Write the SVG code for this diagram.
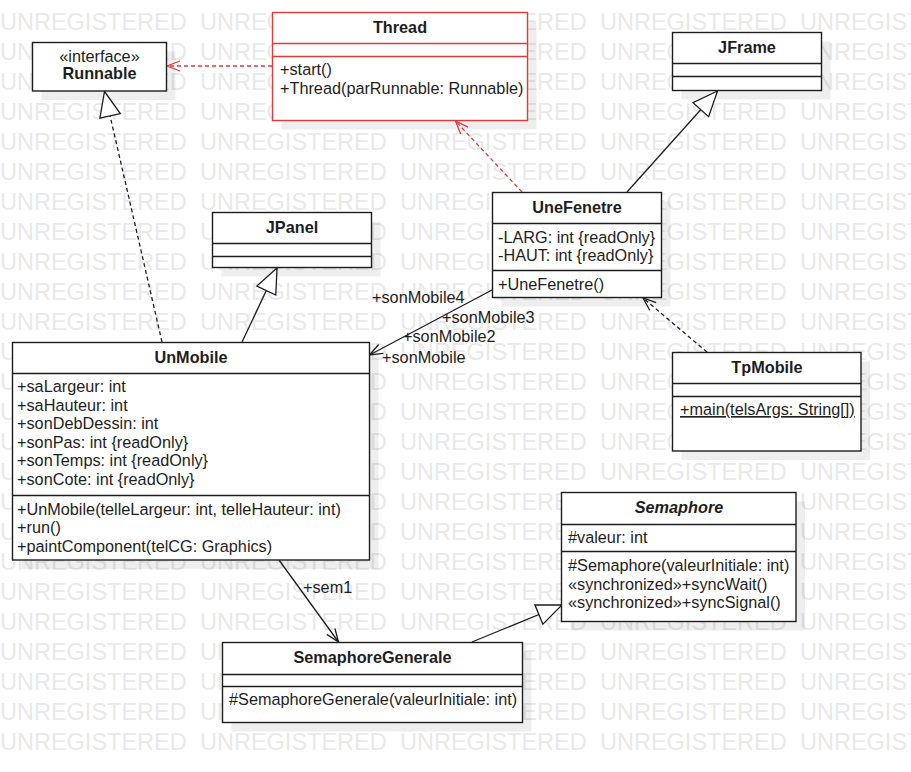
<svg xmlns="http://www.w3.org/2000/svg" xmlns:xlink="http://www.w3.org/1999/xlink" width="911" height="772" viewBox="0 0 911 772">
<style>
text{font-family:"Liberation Sans",Arial,sans-serif;font-size:16.25px;fill:#1e1e1e}
.wm{font-size:23.5px;fill:#e9e9e9}
.b{font-weight:bold}
.c{text-anchor:middle}
.box{fill:#fff;stroke:#1e1e1e;stroke-width:1.4}
.red{stroke:#e23a3a}
.sep{stroke:#1e1e1e;stroke-width:1.4;fill:none}
.sepr{stroke:#e23a3a;stroke-width:1.4;fill:none}
.sh{fill:#000;fill-opacity:0.065}
.ln{fill:none;stroke:#1e1e1e;stroke-width:1.3}
.dash{stroke-dasharray:4 3}
.rl{fill:none;stroke:#e23a3a;stroke-width:1.3;stroke-dasharray:4 3}
</style>
<defs>
<text id="wmrow" class="wm"><tspan x="0">UNREGISTERED</tspan><tspan x="200">UNREGISTERED</tspan><tspan x="400">UNREGISTERED</tspan><tspan x="600">UNREGISTERED</tspan><tspan x="800">UNREGISTERED</tspan></text>
<marker id="openB" viewBox="-15 -7 16 14" refX="0" refY="0" markerWidth="16" markerHeight="14" markerUnits="userSpaceOnUse" orient="auto">
<path d="M-13,-5 L0,0 L-13,5" fill="none" stroke="#1e1e1e" stroke-width="1.3"/>
</marker>
<marker id="openR" viewBox="-15 -7 16 14" refX="0" refY="0" markerWidth="16" markerHeight="14" markerUnits="userSpaceOnUse" orient="auto">
<path d="M-13,-5 L0,0 L-13,5" fill="none" stroke="#e23a3a" stroke-width="1.3"/>
</marker>
<marker id="tri" viewBox="-27 -12 28 24" refX="0" refY="0" markerWidth="28" markerHeight="24" markerUnits="userSpaceOnUse" orient="auto">
<path d="M0,0 L-25,-10.5 L-25,10.5 Z" fill="#fff" stroke="#1e1e1e" stroke-width="1.3"/>
</marker>
</defs>
<rect width="911" height="772" fill="#fff"/>
<g id="watermark">
<use xlink:href="#wmrow" y="30"/><use xlink:href="#wmrow" y="60"/><use xlink:href="#wmrow" y="90"/><use xlink:href="#wmrow" y="120"/><use xlink:href="#wmrow" y="150"/>
<use xlink:href="#wmrow" y="180"/><use xlink:href="#wmrow" y="210"/><use xlink:href="#wmrow" y="240"/><use xlink:href="#wmrow" y="270"/><use xlink:href="#wmrow" y="300"/>
<use xlink:href="#wmrow" y="330"/><use xlink:href="#wmrow" y="360"/><use xlink:href="#wmrow" y="390"/><use xlink:href="#wmrow" y="420"/><use xlink:href="#wmrow" y="450"/>
<use xlink:href="#wmrow" y="480"/><use xlink:href="#wmrow" y="510"/><use xlink:href="#wmrow" y="540"/><use xlink:href="#wmrow" y="570"/><use xlink:href="#wmrow" y="600"/>
<use xlink:href="#wmrow" y="630"/><use xlink:href="#wmrow" y="660"/><use xlink:href="#wmrow" y="690"/><use xlink:href="#wmrow" y="720"/><use xlink:href="#wmrow" y="750"/>
</g>
<g id="shadows">
<rect class="sh" x="41.5" y="51.5" width="134" height="48.5"/>
<rect class="sh" x="281.5" y="21.5" width="255" height="108"/>
<rect class="sh" x="681.5" y="41.5" width="149" height="58"/>
<rect class="sh" x="221.5" y="221.5" width="159" height="55"/>
<rect class="sh" x="501.5" y="201.5" width="169" height="105"/>
<rect class="sh" x="21.5" y="351.5" width="357" height="217.5"/>
<rect class="sh" x="681.5" y="361.5" width="188.5" height="98.5"/>
<rect class="sh" x="570.5" y="501.5" width="234.5" height="129"/>
<rect class="sh" x="231.5" y="651.5" width="300" height="80"/>
</g>
<g id="connectors">
<path class="rl" d="M272,66 L167,66" marker-end="url(#openR)"/>
<path class="ln dash" d="M162,342 L104.5,91.5" marker-end="url(#tri)"/>
<path class="ln" d="M242,342 L277,268" marker-end="url(#tri)"/>
<path class="rl" d="M522,192 L455.5,121" marker-end="url(#openR)"/>
<path class="ln" d="M627,192 L717.5,91" marker-end="url(#tri)"/>
<path class="ln" d="M492,290 L369.5,355" marker-end="url(#openB)"/>
<path class="ln dash" d="M707,352 L643,298" marker-end="url(#openB)"/>
<path class="ln" d="M279,560 L338.5,642" marker-end="url(#openB)"/>
<path class="ln" d="M472,642 L562,605" marker-end="url(#tri)"/>
<text x="372" y="303">+sonMobile4</text>
<text x="442" y="323">+sonMobile3</text>
<text x="403" y="342">+sonMobile2</text>
<text x="382" y="363">+sonMobile</text>
<text x="303" y="593">+sem1</text>
</g>
<g id="Runnable">
<rect class="box" x="32.5" y="42.5" width="134" height="48.5"/>
<text class="c" x="99.5" y="61.5">«interface»</text>
<text class="c b" x="99.5" y="79">Runnable</text>
</g>
<g id="Thread">
<rect class="box red" x="272.5" y="12.5" width="255" height="108"/>
<path class="sepr" d="M272.5,43.5 H527.5 M272.5,56.5 H527.5"/>
<text class="c b" x="400" y="33">Thread</text>
<text x="280" y="75">+start()</text>
<text x="280" y="94">+Thread(parRunnable: Runnable)</text>
</g>
<g id="JFrame">
<rect class="box" x="672.5" y="32.5" width="149" height="58"/>
<path class="sep" d="M672.5,63.5 H821.5 M672.5,76.5 H821.5"/>
<text class="c b" x="747" y="53">JFrame</text>
</g>
<g id="JPanel">
<rect class="box" x="212.5" y="212.5" width="159" height="55"/>
<path class="sep" d="M212.5,243.5 H371.5 M212.5,256.5 H371.5"/>
<text class="c b" x="292" y="233">JPanel</text>
</g>
<g id="UneFenetre">
<rect class="box" x="492.5" y="192.5" width="169" height="105"/>
<path class="sep" d="M492.5,223.5 H661.5 M492.5,270.5 H661.5"/>
<text class="c b" x="577" y="213">UneFenetre</text>
<text x="498" y="242.5">-LARG: int {readOnly}</text>
<text x="498" y="261">-HAUT: int {readOnly}</text>
<text x="498" y="289.5">+UneFenetre()</text>
</g>
<g id="UnMobile">
<rect class="box" x="12.5" y="342.5" width="357" height="217.5"/>
<path class="sep" d="M12.5,373.5 H369.5 M12.5,495.5 H369.5"/>
<text class="c b" x="191" y="363">UnMobile</text>
<text x="17" y="392">+saLargeur: int</text>
<text x="17" y="410.6">+saHauteur: int</text>
<text x="17" y="429.2">+sonDebDessin: int</text>
<text x="17" y="447.8">+sonPas: int {readOnly}</text>
<text x="17" y="466.4">+sonTemps: int {readOnly}</text>
<text x="17" y="485">+sonCote: int {readOnly}</text>
<text x="17" y="514.5">+UnMobile(telleLargeur: int, telleHauteur: int)</text>
<text x="17" y="533">+run()</text>
<text x="17" y="551.6">+paintComponent(telCG: Graphics)</text>
</g>
<g id="TpMobile">
<rect class="box" x="672.5" y="352.5" width="188.5" height="98.5"/>
<path class="sep" d="M672.5,383.5 H861 M672.5,396.5 H861"/>
<text class="c b" x="767" y="373">TpMobile</text>
<text x="680" y="415" text-decoration="underline">+main(telsArgs: String[])</text>
</g>
<g id="Semaphore">
<rect class="box" x="561.5" y="492.5" width="234.5" height="129"/>
<path class="sep" d="M561.5,524.5 H796 M561.5,551.5 H796"/>
<text class="c b" x="679" y="513" font-style="italic">Semaphore</text>
<text x="568" y="543">#valeur: int</text>
<text x="568" y="571">#Semaphore(valeurInitiale: int)</text>
<text x="568" y="589.6">«synchronized»+syncWait()</text>
<text x="568" y="608.2">«synchronized»+syncSignal()</text>
</g>
<g id="SemaphoreGenerale">
<rect class="box" x="222.5" y="642.5" width="300" height="80"/>
<path class="sep" d="M222.5,674.5 H522.5 M222.5,686.5 H522.5"/>
<text class="c b" x="372.5" y="663">SemaphoreGenerale</text>
<text x="229" y="704.5">#SemaphoreGenerale(valeurInitiale: int)</text>
</g>
</svg>
